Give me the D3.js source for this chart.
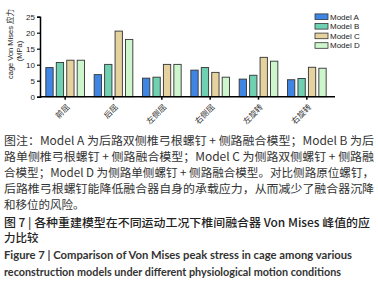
<!DOCTYPE html>
<html>
<head>
<meta charset="utf-8">
<script src="https://cdn.jsdelivr.net/npm/d3@7/dist/d3.min.js"></script>
<style>
  body { margin: 0; background: #fff; }
  svg { display: block; }
</style>
</head>
<body>
<div id="chart"></div>
<script>
const categories = ["前屈", "后屈", "左侧屈", "右侧屈", "左旋转", "右旋转"];
const models = ["Model A", "Model B", "Model C", "Model D"];
const modelA = [9.1, 6.9, 5.8, 8.3, 5.5, 5.3];
const modelB = [10.7, 10.1, 6.1, 9.1, 6.7, 5.7];
const modelC = [11.4, 20.5, 10.1, 7.6, 12.3, 9.2];
const modelD = [11.4, 17.9, 10.1, 6.1, 11.1, 8.9];
const yTicks = [0, 5, 10, 15, 20, 25];
const colors = ["#3f86e4", "#6fd0b2", "#e5d29e", "#cdf6cc"];

const noteLines = [
  "图注：Model A 为后路双侧椎弓根螺钉 + 侧路融合模型；Model B 为后",
  "路单侧椎弓根螺钉 + 侧路融合模型；Model C 为侧路双侧螺钉 + 侧路融",
  "合模型；Model D 为侧路单侧螺钉 + 侧路融合模型。对比侧路原位螺钉，",
  "后路椎弓根螺钉能降低融合器自身的承载应力，从而减少了融合器沉降",
  "和移位的风险。"
];
const titleCn = ["图 7 | 各种重建模型在不同运动工况下椎间融合器 Von Mises 峰值的应", "力比较"];
const titleEn = [
  "Figure 7  |  Comparison of Von Mises peak stress in cage among various",
  "reconstruction models under different physiological motion conditions"
];

const series = [modelA, modelB, modelC, modelD];
const data = categories.map((c, i) => ({cat: c, vals: series.map(s => s[i])}));

const W = 378, H = 282;
const svg = d3.select("#chart").append("svg")
  .attr("width", W).attr("height", H);

const x0 = d3.scaleBand().domain(categories).range([41, 331]).paddingInner(0.2).paddingOuter(0.1);
const x1 = d3.scaleBand().domain(models).range([0, x0.bandwidth()]).paddingInner(0.3);
const y = d3.scaleLinear().domain([0, 25]).range([96.7, 16.7]);
const color = d3.scaleOrdinal().domain(models).range(colors);

// bars
const g = svg.append("g");
g.selectAll("g.grp")
  .data(data)
  .join("g")
  .attr("class", "grp")
  .attr("transform", d => `translate(${x0(d.cat)},0)`)
  .selectAll("rect")
  .data(d => d.vals.map((v, i) => ({m: models[i], v})))
  .join("rect")
  .attr("x", d => x1(d.m))
  .attr("y", d => y(d.v))
  .attr("width", x1.bandwidth())
  .attr("height", d => y(0) - y(d.v))
  .attr("fill", d => color(d.m))
  .attr("stroke", "#333")
  .attr("stroke-width", 0.9);

// y axis
const yAxis = svg.append("g")
  .attr("transform", "translate(40,0)")
  .call(d3.axisLeft(y).tickValues(yTicks).tickSize(3).tickPadding(2));
yAxis.select(".domain").attr("stroke", "#000").attr("stroke-width", 1.5);
yAxis.selectAll("line").attr("stroke-width", 1.2);
yAxis.selectAll("text").style("font-family", "Liberation Sans").style("font-size", "8px").attr("fill", "#222");

// x axis
const xAxis = svg.append("g")
  .attr("transform", `translate(0,${y(0)})`)
  .call(d3.axisBottom(x0).tickSize(3).tickSizeOuter(0).tickFormat(""));
xAxis.select(".domain").attr("d", `M40,0H335`).attr("stroke", "#000").attr("stroke-width", 1.5);
xAxis.selectAll("line").attr("stroke-width", 1.5);

categories.forEach(c => {
  const cx = x0(c) + x0.bandwidth() / 2;
  svg.append("text")
    .attr("transform", `translate(${cx + 3},${y(0) + 9}) rotate(-45)`)
    .attr("text-anchor", "end")
    .attr("dy", "0.35em")
    .style("font-family", "Noto Sans CJK SC")
    .style("font-size", "8px")
    .attr("fill", "#333")
    .text(c);
});

// y title
svg.append("text")
  .attr("transform", "translate(13,44) rotate(-90)")
  .attr("text-anchor", "middle")
  .style("font-family", "Liberation Sans, Noto Sans CJK SC")
  .style("font-size", "7.5px")
  .attr("fill", "#222")
  .text("cage Von Mises 应力");
svg.append("text")
  .attr("transform", "translate(22,51) rotate(-90)")
  .attr("text-anchor", "middle")
  .style("font-family", "Liberation Sans")
  .style("font-size", "7.5px")
  .attr("fill", "#222")
  .text("(MPa)");

// legend
const leg = svg.append("g");
models.forEach((m, i) => {
  const ly = 16.7 + i * 9.6;
  leg.append("rect")
    .attr("x", 315).attr("y", ly - 2.8)
    .attr("width", 13).attr("height", 5.6)
    .attr("fill", color(m)).attr("stroke", "#333").attr("stroke-width", 0.8);
  leg.append("text")
    .attr("x", 330).attr("y", ly).attr("dy", "0.35em")
    .style("font-family", "Liberation Sans")
    .style("font-size", "8px")
    .attr("fill", "#222")
    .text(m);
});

// caption
const capFont = "Noto Sans CJK SC";
noteLines.forEach((t, i) => {
  const tx = svg.append("text")
    .attr("x", 4).attr("y", 145 + i * 16)
    .style("font-family", capFont)
    .style("font-size", "11.5px")
    .attr("fill", "#333")
    .text(t);
  if (i < noteLines.length - 1) tx.attr("textLength", 370).attr("lengthAdjust", "spacingAndGlyphs");
});
titleCn.forEach((t, i) => {
  const tx = svg.append("text")
    .attr("x", 4).attr("y", 227 + i * 15)
    .style("font-family", capFont)
    .style("font-size", "11.5px")
    .style("font-weight", "500")
    .attr("fill", "#222")
    .text(t);
  if (i === 0) tx.attr("textLength", 366).attr("lengthAdjust", "spacingAndGlyphs");
});
const enLen = [348, 337];
titleEn.forEach((t, i) => {
  svg.append("text")
    .attr("x", 4).attr("y", 259 + i * 17)
    .style("font-family", "Lato")
    .style("font-weight", "bold")
    .style("font-size", "10.5px")
    .attr("fill", "#333")
    .attr("textLength", enLen[i]).attr("lengthAdjust", "spacingAndGlyphs")
    .text(t);
});
</script>
</body>
</html>
